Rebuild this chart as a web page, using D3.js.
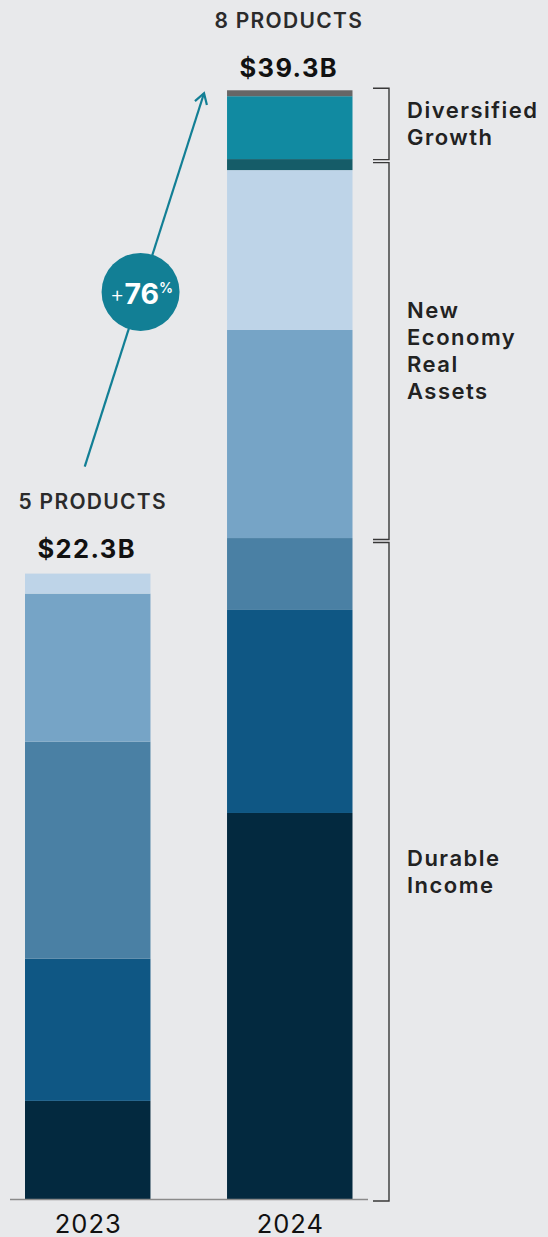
<!DOCTYPE html>
<html>
<head>
<meta charset="utf-8">
<script src="https://cdn.jsdelivr.net/npm/d3@7"></script>
<style>
  html, body { margin: 0; padding: 0; background: #e8e9eb; }
  svg { display: block; }
  text { font-family: Inter, "Noto Sans", sans-serif; }
</style>
</head>
<body>
<svg id="chart" width="548" height="1237"></svg>
<script>
// ---- data ----
const years = ["2023", "2024"];
const seriesKeys = ["di1", "di2", "di3", "ne1", "ne2", "ne3", "dg1", "dg2"];
const seriesColors = ["#03293f", "#0f5784", "#4a80a4", "#76a4c6", "#bed4e8", "#155c68", "#118aa1", "#666666"];
const values2023 = [3.48, 5.04, 7.70, 5.25, 0.71, 0, 0, 0];
const values2024 = [13.69, 7.20, 2.55, 7.38, 5.67, 0.39, 2.23, 0.21];
const totalLabels = ["$22.3B", "$39.3B"];
const productLabels = ["5 PRODUCTS", "8 PRODUCTS"];
const growthLabel = "76";
const groups = [
  { name: ["Diversified", "Growth"], from: 6, to: 8 },
  { name: ["New", "Economy", "Real", "Assets"], from: 3, to: 6 },
  { name: ["Durable", "Income"], from: 0, to: 3 }
];

const table = years.map((yr, i) => {
  const row = { year: yr };
  const vals = i === 0 ? values2023 : values2024;
  seriesKeys.forEach((k, j) => row[k] = vals[j]);
  return row;
});

const svg = d3.select("#chart");
const baseY = 1199;
const y = d3.scaleLinear().domain([0, 39.33]).range([baseY, 90]);
const x = d3.scaleBand().domain(years).range([25, 352.5]).paddingInner(0.379).paddingOuter(0);
const color = d3.scaleOrdinal().domain(seriesKeys).range(seriesColors);

const stack = d3.stack().keys(seriesKeys)(table);

svg.append("g").selectAll("g").data(stack).join("g")
  .attr("fill", d => color(d.key))
  .selectAll("rect").data(d => d.filter(p => p[1] - p[0] > 0)).join("rect")
  .attr("x", d => x(d.data.year))
  .attr("width", x.bandwidth())
  .attr("y", d => y(d[1]))
  .attr("height", d => y(d[0]) - y(d[1]));

// baseline
svg.append("line")
  .attr("x1", 10).attr("x2", 368)
  .attr("y1", baseY + 0.5).attr("y2", baseY + 0.5)
  .attr("stroke", "#8a8a8a").attr("stroke-width", 1.5);

// year labels
svg.append("g").selectAll("text").data(years).join("text")
  .attr("x", d => x(d) + x.bandwidth() / 2 + 0.5)
  .attr("y", 1232.5)
  .attr("text-anchor", "middle")
  .attr("font-size", 25.5)
  .attr("letter-spacing", 1)
  .attr("fill", "#111")
  .text(d => d);

// totals
const totals = table.map(r => d3.sum(seriesKeys, k => r[k]));
const topG = svg.append("g");
const totalOff = [15.5, 13.3];
const prodOff = [64.5, 62.3];
years.forEach((yr, i) => {
  const cx = x(yr) + x.bandwidth() / 2;
  const top = y(totals[i]);
  topG.append("text")
    .attr("x", cx - 1).attr("y", top - totalOff[i])
    .attr("text-anchor", "middle")
    .attr("font-size", 25.5).attr("font-weight", 700)
    .attr("fill", "#111")
    .attr("letter-spacing", 1.4)
    .text(totalLabels[i]);
  topG.append("text")
    .attr("x", cx + (i === 0 ? 5 : -1)).attr("y", top - prodOff[i])
    .attr("text-anchor", "middle")
    .attr("font-size", 21).attr("font-weight", 600)
    .attr("fill", "#2b2b2b")
    .attr("letter-spacing", 1.3)
    .text(productLabels[i]);
});

// brackets
const b = svg.append("g").attr("fill", "none").attr("stroke", "#383838").attr("stroke-width", 1.4);
const bx0 = 373, bx1 = 389;
const stackTop = table[1];
const cum = n => d3.sum(seriesKeys.slice(0, n), k => stackTop[k]);
const bracketSpans = groups.map((g, gi) => {
  let yTop, yBot;
  if (gi === 0) { yTop = y(cum(g.to)) - 2; yBot = y(cum(g.from)) + 0.5; }
  else if (gi === 1) { yTop = y(cum(g.to)) + 3.5; yBot = y(cum(g.from)) + 1.5; }
  else { yTop = y(cum(g.to)) + 4.5; yBot = baseY + 2; }
  return { g, yTop, yBot };
});
bracketSpans.forEach(s => {
  b.append("path")
    .attr("d", `M${bx0},${s.yTop}H${bx1}V${s.yBot}H${bx0}`);
});

// group labels
const lab = svg.append("g");
bracketSpans.forEach(s => {
  const mid = (s.yTop + s.yBot) / 2;
  const lh = 26.8;
  const n = s.g.name.length;
  const firstBase = mid - (n - 1) * lh / 2 + 7.5;
  const t = lab.append("text")
    .attr("font-size", 22).attr("font-weight", 600)
    .attr("fill", "#222").attr("letter-spacing", 1.5);
  s.g.name.forEach((line, i) => {
    t.append("tspan").attr("x", 407).attr("y", firstBase + i * lh).text(line);
  });
});

// growth arrow
const teal = "#127f95";
const ax0 = x("2023") + x.bandwidth() / 2 - 3, ay0 = y(totals[0]) - 107;
const ax1 = x("2024") - 23, ay1 = y(totals[1]) + 3;
const ag = svg.append("g");
ag.append("line")
  .attr("x1", ax0).attr("y1", ay0).attr("x2", ax1).attr("y2", ay1)
  .attr("stroke", teal).attr("stroke-width", 2.2);
const ang = Math.atan2(ay1 - ay0, ax1 - ax0);
const hl = 12, ha = 0.55;
ag.append("path")
  .attr("d", `M${ax1 - hl * Math.cos(ang - ha)},${ay1 - hl * Math.sin(ang - ha)}L${ax1},${ay1}L${ax1 - hl * Math.cos(ang + ha)},${ay1 - hl * Math.sin(ang + ha)}`)
  .attr("fill", "none").attr("stroke", teal).attr("stroke-width", 2.2);

const t = 0.468;
const ccx = ax0 + (ax1 - ax0) * t, ccy = ay0 + (ay1 - ay0) * t;
ag.append("circle").attr("cx", ccx).attr("cy", ccy).attr("r", 39).attr("fill", teal);
const pt = ag.append("text").attr("x", ccx + 1).attr("y", ccy + 12).attr("text-anchor", "middle").attr("fill", "#fff");
pt.append("tspan").attr("font-size", 22).attr("font-weight", 300).attr("dy", -2).text("+");
pt.append("tspan").attr("font-size", 28.5).attr("font-weight", 700).attr("dy", 2).text(growthLabel);
pt.append("tspan").attr("font-size", 14).attr("font-weight", 600).attr("dy", -11).text("%");
</script>
</body>
</html>
